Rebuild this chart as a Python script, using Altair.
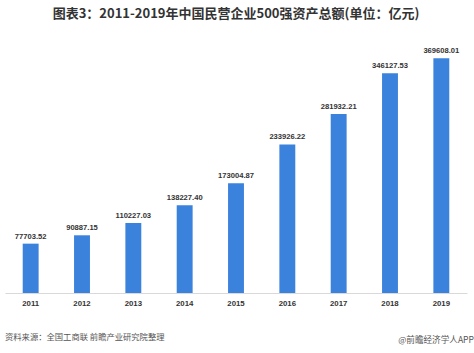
import altair as alt
import pandas as pd

years = ["2011", "2012", "2013", "2014", "2015", "2016", "2017", "2018", "2019"]
values = [77703.52, 90887.15, 110227.03, 138227.40, 173004.87, 233926.22, 281932.21, 346127.53, 369608.01]
labels = ["77703.52", "90887.15", "110227.03", "138227.40", "173004.87", "233926.22", "281932.21", "346127.53", "369608.01"]

df = pd.DataFrame({"year": years, "value": values, "label": labels})

FONT = "Noto Sans CJK SC"
NUMFONT = "Liberation Sans"

x = alt.X("year:N", axis=alt.Axis(title=None, labelAngle=0, ticks=False, labelFont=NUMFONT,
                                  labelFontWeight="bold", labelFontSize=7.8, labelColor="#333",
                                  labelPadding=6, domainColor="#d9d9d9", domainWidth=1),
          scale=alt.Scale(paddingInner=0.69, paddingOuter=0.345))
y = alt.Y("value:Q", scale=alt.Scale(domain=[0, 400000], nice=False),
          axis=None)

bars = alt.Chart(df).mark_bar(color="#3b82dd").encode(x=x, y=y)
text = alt.Chart(df).mark_text(font=NUMFONT, fontWeight="bold", fontSize=7.6, color="#333",
                               baseline="bottom", dy=-3).encode(x=x, y=y, text="label:N")

src = alt.Chart(pd.DataFrame({"t": ["资料来源：全国工商联 前瞻产业研究院整理"]})).mark_text(
    font=FONT, fontSize=8.3, color="#555", align="left", baseline="middle"
).encode(x=alt.value(0), y=alt.value(299), text="t:N")

app = alt.Chart(pd.DataFrame({"t": ["@前瞻经济学人APP"]})).mark_text(
    font=FONT, fontSize=8.6, color="#555", align="right", baseline="middle"
).encode(x=alt.value(469), y=alt.value(301), text="t:N")

chart = alt.layer(bars, text, src, app).properties(
    width=462, height=254,
    background="white",
    autosize=alt.AutoSizeParams(type="none"),
    padding={"left": 5, "top": 39, "right": 7, "bottom": 60},
    title=alt.TitleParams("图表3：2011-2019年中国民营企业500强资产总额(单位：亿元)",
                          font=FONT, fontSize=13, fontWeight="bold", color="#333",
                          anchor="middle", offset=12, baseline="middle"),
).configure_view(strokeWidth=0, stroke="transparent")

chart.save("out.html", embed_options={"renderer": "svg", "actions": False})
